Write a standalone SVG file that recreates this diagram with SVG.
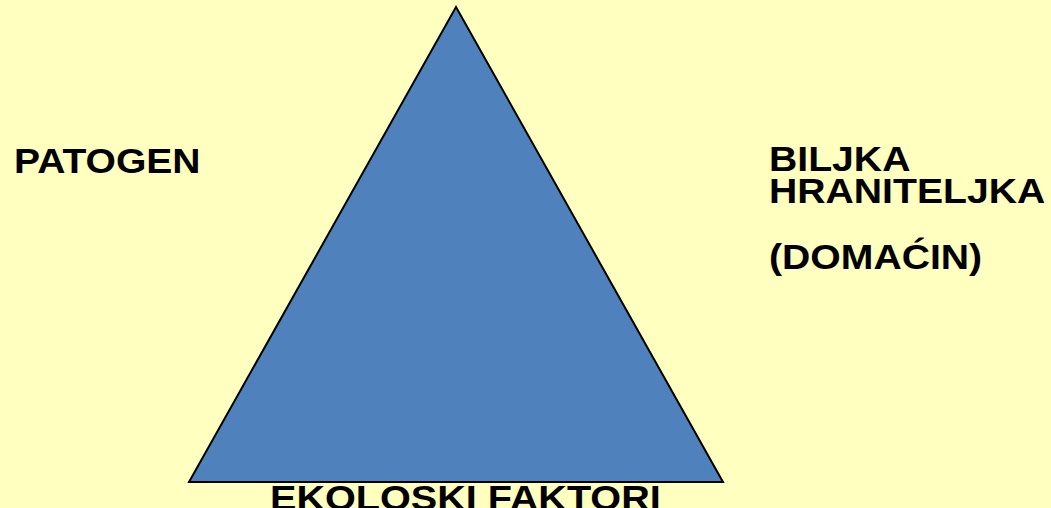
<svg xmlns="http://www.w3.org/2000/svg" width="1051" height="508" viewBox="0 0 1051 508">
<style>
.t{font-family:"Liberation Sans",Arial,sans-serif;font-weight:bold;font-size:36px;fill:#000}
</style>
<rect width="1051" height="508" fill="#FFFFC0"/>
<g id="label-ekoloski"><text class="t" transform="translate(270,510) scale(1.1,1)">EKOLOSKI FAKTORI</text></g>
<g id="triangle"><polygon points="456,7 723,482 189,482" fill="#4F81BD" stroke="#000" stroke-width="2"/></g>
<g id="label-patogen"><text class="t" transform="translate(14,173) scale(1.085,1)">PATOGEN</text></g>
<g id="label-biljka">
<text class="t" transform="translate(769,171) scale(1.088,1)">BILJKA</text>
<text class="t" transform="translate(769,203) scale(1.088,1)">HRANITELJKA</text>
<text class="t" transform="translate(769,269) scale(1.088,1)">(DOMAĆIN)</text>
</g>
<g id="connectors"/>
</svg>
